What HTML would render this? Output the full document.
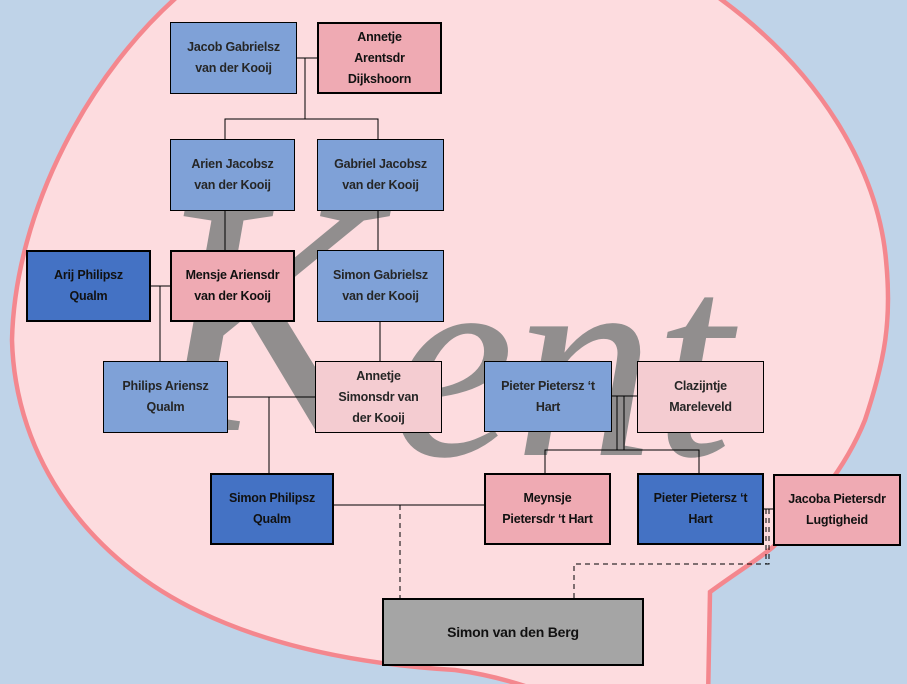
<!DOCTYPE html>
<html><head><meta charset="utf-8"><style>
body{margin:0;width:907px;height:684px;overflow:hidden;background:#bfd3e8}
svg{position:absolute;left:0;top:0}
.b{position:absolute;box-sizing:border-box;display:flex;align-items:center;justify-content:center;text-align:center;font:bold 12.5px/21px "Liberation Sans",sans-serif;color:#262626;white-space:nowrap;letter-spacing:-0.2px}
.bl{background:#7fa1d7;border:1px solid #000}
.db{background:#4472c4;border:2.5px solid #000;color:#111}
.pk{background:#efaab3;border:2.5px solid #000;color:#111}
.lp{background:#f4ccd1;border:1px solid #000}
.gr{background:#a5a5a5;border:2.5px solid #000;color:#111;font-size:14px}
</style></head><body>
<svg width="907" height="684">
<path d="M185 -10 C90 70 15 210 12 340 C15 460 90 560 200 612 C280 650 370 665 455 670 C500 676 540 690 560 700 L708 700 L710 592 C740 570 765 555 775 545 C810 510 845 470 865 420 C885 360 892 320 886 260 C878 170 820 70 715 -5 Z" fill="#fddcdf" stroke="#f4878e" stroke-width="4.5"/>
<text x="150" y="430" font-family="Liberation Serif" font-style="italic" font-size="340" fill="#868686" opacity="0.9">K</text>
<text x="390" y="455" font-family="Liberation Serif" font-style="italic" font-size="280" fill="#868686" opacity="0.9">ent</text>
<g stroke="#000" stroke-width="1" fill="none">
<path d="M297 58H317M305 58V119M225 139V119H378V139"/>
<path d="M225 211V250M378 211V250"/>
<path d="M151 286H170M160 286V361"/>
<path d="M380 322V361"/>
<path d="M228 397H315M269 397V473"/>
<path d="M612 396H637M617 396V450M624 396V450M545 473V450H699V473"/>
<path d="M334 505H484"/>
<path d="M764 509H773"/>
</g>
<g stroke="#000" stroke-width="1" fill="none" stroke-dasharray="5,4">
<path d="M400 505V598"/>
<path d="M766 509V564M769 509V564H574V598"/>
</g>
</svg>
<div class="b bl" style="left:170px;top:22px;width:127px;height:72px">Jacob Gabrielsz<br>van der Kooij</div>
<div class="b pk" style="left:317px;top:22px;width:125px;height:72px">Annetje<br>Arentsdr<br>Dijkshoorn</div>
<div class="b bl" style="left:170px;top:139px;width:125px;height:72px">Arien Jacobsz<br>van der Kooij</div>
<div class="b bl" style="left:317px;top:139px;width:127px;height:72px">Gabriel Jacobsz<br>van der Kooij</div>
<div class="b db" style="left:26px;top:250px;width:125px;height:72px">Arij Philipsz<br>Qualm</div>
<div class="b pk" style="left:170px;top:250px;width:125px;height:72px">Mensje Ariensdr<br>van der Kooij</div>
<div class="b bl" style="left:317px;top:250px;width:127px;height:72px">Simon Gabrielsz<br>van der Kooij</div>
<div class="b bl" style="left:103px;top:361px;width:125px;height:72px">Philips Ariensz<br>Qualm</div>
<div class="b lp" style="left:315px;top:361px;width:127px;height:72px">Annetje<br>Simonsdr van<br>der Kooij</div>
<div class="b bl" style="left:484px;top:361px;width:128px;height:71px">Pieter Pietersz ‘t<br>Hart</div>
<div class="b lp" style="left:637px;top:361px;width:127px;height:72px">Clazijntje<br>Mareleveld</div>
<div class="b db" style="left:210px;top:473px;width:124px;height:72px">Simon Philipsz<br>Qualm</div>
<div class="b pk" style="left:484px;top:473px;width:127px;height:72px">Meynsje<br>Pietersdr ‘t Hart</div>
<div class="b db" style="left:637px;top:473px;width:127px;height:72px">Pieter Pietersz ‘t<br>Hart</div>
<div class="b pk" style="left:773px;top:474px;width:128px;height:72px">Jacoba Pietersdr<br>Lugtigheid</div>
<div class="b gr" style="left:382px;top:598px;width:262px;height:68px">Simon van den Berg</div>
</body></html>
